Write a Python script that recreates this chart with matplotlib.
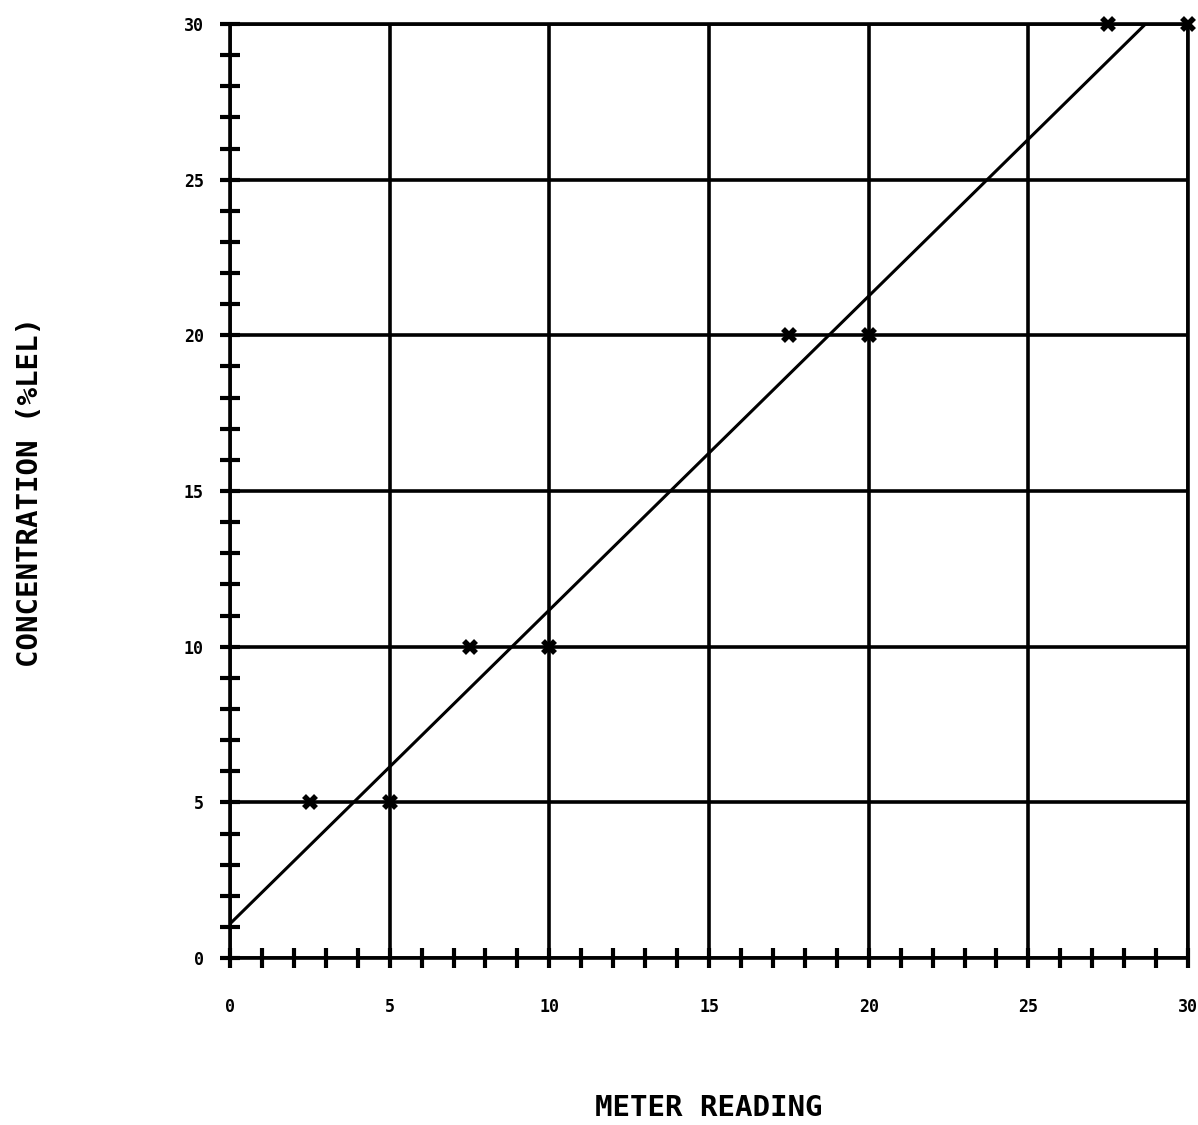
import numpy as np
import matplotlib.pyplot as plt

# dados
meter = [2.5, 5, 7.5, 10, 17.5, 20, 27.5, 30]
conc = [5, 5, 10, 10, 20, 20, 30, 30]
fit_intercept = 1.1
fit_slope = 1.008
ticks = [0, 5, 10, 15, 20, 25, 30]
tick_labels = ['0', '5', '10', '15', '20', '25', '30']

fig = plt.figure(figsize=(11.98, 11.25), dpi=100)
ax = fig.add_axes([0.192, 0.1484, 0.7997, 0.8303])

ax.grid(True, color='black', linewidth=2.6)
ax.set_axisbelow(True)

xs = np.array([0, 30])
ax.plot(xs, fit_intercept + fit_slope * xs, color='black', linewidth=2.2)
ax.plot(meter, conc, linestyle='none', marker='x', markersize=8,
        markeredgewidth=4, color='black', clip_on=False, zorder=5)

ax.set_xlim(0, 30)
ax.set_ylim(0, 30)
ax.set_xticks(ticks)
ax.set_yticks(ticks)
ax.set_xticklabels(tick_labels, fontfamily='DejaVu Sans Mono', fontweight='bold', fontsize=12)
ax.set_yticklabels(tick_labels, fontfamily='DejaVu Sans Mono', fontweight='bold', fontsize=12)
ax.set_xticks(np.arange(0, 31, 1), minor=True)
ax.set_yticks(np.arange(0, 31, 1), minor=True)
ax.tick_params(which='both', direction='inout', length=14, width=3, color='black')
ax.tick_params(axis='x', which='major', pad=22)
ax.tick_params(axis='y', which='major', pad=12)

for s in ax.spines.values():
    s.set_linewidth(2.6)

fig.text(0.592, 0.003, 'METER READING', ha='center', va='bottom',
         fontfamily='DejaVu Sans Mono', fontweight='bold', fontsize=21)
fig.text(0.025, 0.563, 'CONCENTRATION (%LEL)', rotation=90, ha='center', va='center',
         fontfamily='DejaVu Sans Mono', fontweight='bold', fontsize=21)

fig.savefig('out.png', dpi=100)
